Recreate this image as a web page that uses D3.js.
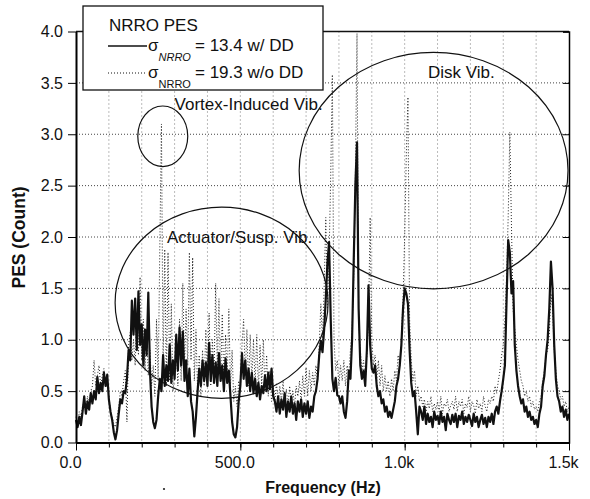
<!DOCTYPE html>
<html>
<head>
<meta charset="utf-8">
<script src="https://cdn.jsdelivr.net/npm/d3@7"></script>
<style>
  body { margin: 0; background: #fff; }
  svg text { font-family: "Liberation Sans", Arial, sans-serif; fill: #111; }
</style>
</head>
<body>
<div id="chart"></div>
<script>
// spectrum sampled every 5 Hz, 0 .. 1500 Hz
const freqHz = d3.range(0, 1501, 5);

// NRRO PES with disk damper (solid)
const withDD = [
  0.22, 0.15, 0.25, 0.17, 0.30, 0.45, 0.28, 0.40, 0.32, 0.48,
  0.38, 0.50, 0.42, 0.64, 0.48, 0.58, 0.50, 0.68, 0.55, 0.66,
  0.42, 0.30, 0.22, 0.10, 0.03, 0.12, 0.28, 0.42, 0.38, 0.50,
  0.48, 0.62, 0.90, 0.80, 1.38, 1.05, 1.40, 0.90, 1.47, 0.95,
  1.15, 0.75, 1.10, 0.85, 1.46, 0.70, 0.35, 0.20, 0.14, 0.22,
  0.45, 0.62, 0.50, 0.85, 0.55, 0.75, 0.60, 0.95, 0.58, 0.80,
  0.62, 1.05, 0.70, 1.12, 0.75, 1.08, 0.60, 0.80, 0.45, 0.72,
  0.40, 0.30, 0.06, 0.25, 0.50, 0.72, 0.55, 0.80, 0.60, 0.78,
  0.55, 0.97, 0.60, 0.85, 0.58, 0.78, 0.55, 0.87, 0.60, 0.75,
  0.50, 0.82, 0.58, 0.70, 0.45, 0.20, 0.08, 0.05, 0.15, 0.40,
  0.55, 0.87, 0.62, 0.80, 0.55, 0.72, 0.50, 0.68, 0.48, 0.62,
  0.45, 0.58, 0.42, 0.55, 0.48, 0.65, 0.50, 0.68, 0.52, 0.72,
  0.45, 0.40, 0.30, 0.45, 0.28, 0.42, 0.32, 0.48, 0.25, 0.40,
  0.30, 0.45, 0.28, 0.38, 0.22, 0.40, 0.30, 0.42, 0.25, 0.38,
  0.28, 0.40, 0.24, 0.35, 0.30, 0.45, 0.50, 0.62, 0.85, 0.99,
  0.88, 1.10, 1.40, 1.75, 1.95, 1.20, 0.62, 0.50, 0.63, 0.46,
  0.45, 0.38, 0.45, 0.30, 0.24, 0.40, 0.70, 0.62, 1.00, 1.77,
  2.50, 2.92, 1.30, 0.75, 0.62, 0.70, 0.55, 0.90, 1.53, 0.95,
  0.72, 0.68, 0.75, 0.55, 0.45, 0.50, 0.38, 0.42, 0.30, 0.35,
  0.25, 0.30, 0.24, 0.32, 0.40, 0.55, 0.62, 0.75, 0.95, 1.30,
  1.50, 1.45, 1.35, 0.90, 0.58, 0.45, 0.50, 0.30, 0.08, 0.35,
  0.30, 0.22, 0.35, 0.18, 0.28, 0.20, 0.25, 0.15, 0.30, 0.22,
  0.26, 0.18, 0.30, 0.20, 0.25, 0.12, 0.28, 0.22, 0.18, 0.27,
  0.20, 0.28, 0.15, 0.26, 0.22, 0.30, 0.18, 0.25, 0.20, 0.27,
  0.22, 0.16, 0.28, 0.20, 0.25, 0.15, 0.22, 0.27, 0.18, 0.24,
  0.15, 0.25, 0.20, 0.28, 0.18, 0.30, 0.35, 0.28, 0.40, 0.50,
  0.62, 0.75, 1.38, 1.97, 1.85, 1.45, 1.57, 0.95, 0.70, 0.55,
  0.45, 0.38, 0.42, 0.30, 0.35, 0.25, 0.30, 0.22, 0.25, 0.18,
  0.22, 0.15, 0.28, 0.35, 0.55, 0.65, 0.85, 1.00, 1.30, 1.76,
  1.50, 0.95, 0.62, 0.45, 0.40, 0.30, 0.35, 0.25, 0.32, 0.22,
  0.28
];

// NRRO PES without disk damper (dotted)
const withoutDD = [
  0.25, 0.20, 0.30, 0.25, 0.35, 0.40, 0.30, 0.45, 0.38, 0.50,
  0.55, 0.80, 0.55, 0.65, 0.75, 0.55, 0.65, 0.72, 0.55, 0.60,
  0.45, 0.30, 0.25, 0.18, 0.15, 0.25, 0.35, 0.50, 0.45, 0.60,
  0.70, 0.20, 0.95, 1.07, 0.80, 1.00, 0.75, 1.25, 0.85, 1.61,
  0.80, 1.20, 0.70, 1.10, 0.65, 0.90, 0.55, 0.75, 0.45, 1.20,
  0.60, 1.90, 3.10, 0.70, 1.88, 0.55, 1.85, 0.60, 1.35, 0.50,
  0.65, 1.00, 0.55, 1.20, 0.60, 1.55, 0.70, 1.30, 0.75, 1.85,
  0.80, 1.80, 0.60, 1.10, 0.50, 0.85, 0.45, 0.90, 0.55, 1.10,
  0.60, 1.26, 0.55, 1.00, 0.65, 1.55, 0.70, 1.40, 0.60, 1.25,
  0.55, 1.05, 0.60, 1.30, 0.55, 0.90, 0.40, 0.55, 0.35, 0.60,
  0.50, 0.95, 1.20, 0.65, 1.10, 0.55, 1.05, 0.60, 1.00, 0.55,
  1.05, 0.50, 0.95, 0.55, 1.00, 0.50, 0.85, 0.45, 0.70, 0.40,
  0.55, 0.40, 0.58, 0.35, 0.55, 0.40, 0.60, 0.38, 0.52, 0.35,
  0.55, 0.40, 0.50, 0.35, 0.55, 0.45, 0.60, 0.40, 0.65, 0.45,
  0.73, 0.45, 0.70, 0.50, 0.68, 0.55, 0.75, 0.60, 0.95, 1.35,
  1.00, 1.50, 2.19, 1.30, 1.80, 2.60, 3.58, 1.00, 0.70, 0.80,
  0.55, 0.75, 0.60, 0.80, 0.55, 0.75, 0.65, 0.90, 1.10, 1.60,
  2.60, 3.98, 1.20, 0.90, 0.70, 0.80, 0.60, 0.85, 1.20, 2.19,
  1.00, 0.75, 0.85, 0.60, 0.80, 0.55, 0.75, 0.50, 0.65, 0.50,
  0.60, 0.45, 0.62, 0.50, 0.70, 0.60, 0.85, 0.75, 1.00, 1.40,
  2.00, 2.80, 3.36, 1.20, 0.80, 0.60, 0.70, 0.45, 0.55, 0.40,
  0.45, 0.35, 0.42, 0.30, 0.40, 0.33, 0.45, 0.30, 0.38, 0.32,
  0.40, 0.30, 0.45, 0.28, 0.38, 0.35, 0.42, 0.30, 0.36, 0.40,
  0.32, 0.45, 0.30, 0.40, 0.35, 0.42, 0.28, 0.38, 0.34, 0.45,
  0.30, 0.40, 0.36, 0.28, 0.42, 0.33, 0.38, 0.30, 0.45, 0.35,
  0.30, 0.42, 0.38, 0.45, 0.40, 0.55, 0.48, 0.60, 0.70, 0.85,
  0.95, 1.20, 1.60, 2.20, 3.02, 2.10, 1.30, 1.10, 0.95, 0.80,
  0.70, 0.60, 0.55, 0.45, 0.50, 0.40, 0.45, 0.35, 0.40, 0.32,
  0.35, 0.30, 0.40, 0.45, 0.60, 0.70, 0.85, 0.90, 1.05, 1.45,
  1.30, 0.90, 0.70, 0.55, 0.50, 0.42, 0.45, 0.35, 0.40, 0.30,
  0.35
];

const yTicks = [0, 0.5, 1.0, 1.5, 2.0, 2.5, 3.0, 3.5, 4.0];
const xMajor = [0, 500, 1000, 1500];
const xMajorLabels = ["0.0", "500.0", "1.0k", "1.5k"];
const xMinor = d3.range(0, 1501, 100);

const legendTitle = "NRRO PES";
const legendRows = [
  { sub: "NRRO", text: "= 13.4 w/ DD", dash: null, italic: true },
  { sub: "NRRO", text: "= 19.3 w/o DD", dash: "1,2", italic: false }
];

// annotation ellipses, in data units (Hz, Count)
const regions = [
  { label: "Vortex-Induced Vib.", cx: 264, cy: 2.98, rx: 76, ry: 0.295, lx: 300, ly: 3.24 },
  { label: "Actuator/Susp. Vib.", cx: 443, cy: 1.36, rx: 324, ry: 0.93, lx: 277, ly: 1.94 },
  { label: "Disk Vib.", cx: 1088, cy: 2.646, rx: 409, ry: 1.15, lx: 1071, ly: 3.55 }
];

const width = 590, height = 499;
const margin = { top: 31.5, right: 21, bottom: 56.5, left: 76 };
const iw = width - margin.left - margin.right;
const ih = height - margin.top - margin.bottom;

const svg = d3.select('#chart').append('svg')
  .attr('width', width)
  .attr('height', height);

const g = svg.append('g').attr('transform', `translate(${margin.left},${margin.top})`);

const x = d3.scaleLinear().domain([0, 1500]).range([0, iw]);
const y = d3.scaleLinear().domain([0, 4]).range([ih, 0]);

// grid
g.append('g').selectAll('line')
  .data(yTicks.filter(d => d > 0 && d < 4))
  .enter().append('line')
  .attr('x1', 0).attr('x2', iw)
  .attr('y1', d => y(d)).attr('y2', d => y(d))
  .attr('stroke', '#444').attr('stroke-width', 1)
  .attr('stroke-dasharray', '1,2');

g.append('g').selectAll('line')
  .data(xMinor.filter(d => d > 0 && d < 1500))
  .enter().append('line')
  .attr('y1', 0).attr('y2', ih)
  .attr('x1', d => x(d)).attr('x2', d => x(d))
  .attr('stroke', '#777').attr('stroke-width', 1)
  .attr('stroke-dasharray', '1,3');

// data
const line = d3.line()
  .x((d, i) => x(freqHz[i]))
  .y(d => y(d));

g.append('path')
  .datum(withoutDD)
  .attr('d', line)
  .attr('fill', 'none')
  .attr('stroke', '#222')
  .attr('stroke-width', 1)
  .attr('stroke-dasharray', '1,2');

g.append('path')
  .datum(withDD)
  .attr('d', line)
  .attr('fill', 'none')
  .attr('stroke', '#111')
  .attr('stroke-width', 2.2)
  .attr('stroke-linejoin', 'round');

// frame
g.append('line').attr('x1', 0).attr('x2', iw).attr('y1', 0).attr('y2', 0)
  .attr('stroke', '#111').attr('stroke-width', 1.5);
g.append('g')
  .attr('transform', `translate(${iw},0)`)
  .call(d3.axisLeft(y).tickValues(yTicks).tickSize(6).tickFormat(''))
  .call(a => a.select('.domain').attr('stroke-width', 1.5));

// axes
const yAxis = g.append('g')
  .call(d3.axisLeft(y).tickValues(yTicks).tickFormat(d3.format('.1f'))
    .tickSize(8).tickSizeOuter(0).tickPadding(5));
yAxis.select('.domain').attr('stroke-width', 2);
yAxis.selectAll('text').style('font-size', '16px');

g.append('g')
  .attr('transform', `translate(0,${ih})`)
  .call(d3.axisBottom(x).tickValues(xMinor).tickSize(5).tickFormat(''))
  .call(a => a.select('.domain').remove());

const xAxis = g.append('g')
  .attr('transform', `translate(0,${ih})`)
  .call(d3.axisBottom(x).tickValues(xMajor).tickFormat((d, i) => xMajorLabels[i])
    .tickSize(8).tickSizeOuter(0).tickPadding(6));
xAxis.select('.domain').attr('stroke-width', 2);
xAxis.selectAll('text').style('font-size', '16px').attr('dx', -6);

// axis titles
svg.append('text')
  .attr('x', 323)
  .attr('y', 493)
  .attr('text-anchor', 'middle')
  .style('font-size', '16px').style('font-weight', 'bold')
  .text('Frequency (Hz)');

svg.append('text')
  .attr('transform', 'translate(25,237.5) rotate(-90)')
  .attr('text-anchor', 'middle')
  .style('font-size', '17.5px').style('font-weight', 'bold')
  .text('PES (Count)');

svg.append('circle').attr('cx', 164).attr('cy', 489).attr('r', 1.1).attr('fill', '#222');

// annotations
regions.forEach(r => {
  g.append('ellipse')
    .attr('cx', x(r.cx)).attr('cy', y(r.cy))
    .attr('rx', x(r.rx) - x(0)).attr('ry', y(0) - y(r.ry))
    .attr('fill', 'none').attr('stroke', '#111').attr('stroke-width', 1.2);
  g.append('text')
    .attr('x', x(r.lx)).attr('y', y(r.ly))
    .style('font-size', '17px')
    .text(r.label);
});

// legend
const lg = svg.append('g').attr('transform', 'translate(83,6)');
lg.append('rect').attr('width', 240).attr('height', 84)
  .attr('fill', '#fff').attr('stroke', '#111').attr('stroke-width', 1.3);
lg.append('text').attr('x', 26).attr('y', 25).style('font-size', '17px').text(legendTitle);

legendRows.forEach((r, i) => {
  const yy = 40 + i * 27;
  lg.append('line').attr('x1', 25).attr('x2', 64).attr('y1', yy).attr('y2', yy)
    .attr('stroke', '#111').attr('stroke-width', r.dash ? 1 : 1.6)
    .attr('stroke-dasharray', r.dash);
  const t = lg.append('text').attr('x', 65).attr('y', yy + 5).style('font-size', '17px');
  t.append('tspan').text('σ');
  t.append('tspan').attr('dy', 10).style('font-size', '11px')
    .style('font-style', r.italic ? 'italic' : 'normal').text(r.sub);
  t.append('tspan').attr('x', 112).attr('dy', -10).text(r.text);
});
</script>
</body>
</html>
